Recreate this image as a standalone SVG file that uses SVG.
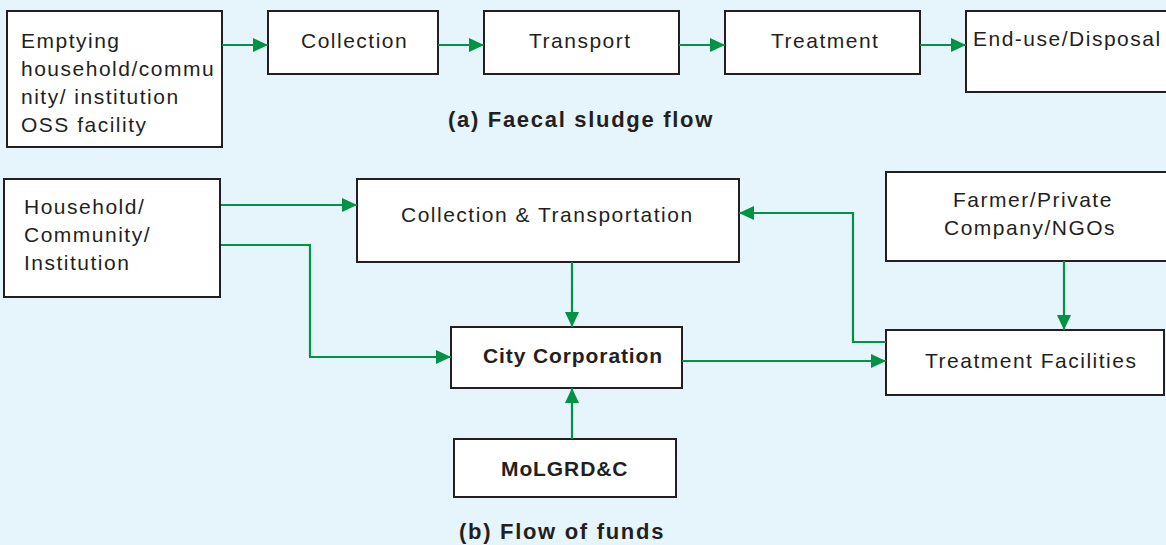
<svg xmlns="http://www.w3.org/2000/svg" width="1166" height="545" viewBox="0 0 1166 545">
<defs>
<marker id="ah" markerUnits="userSpaceOnUse" markerWidth="16" markerHeight="14" refX="15" refY="7" orient="auto">
<path d="M0,0 L15,7 L0,14 Z" fill="#009245"/>
</marker>
<style>
.box{fill:#ffffff;stroke:#231f20;stroke-width:2}
.t{font-family:"Liberation Sans",Arial,sans-serif;font-size:21px;fill:#231f20;letter-spacing:1.5px}
.b{font-family:"Liberation Sans",Arial,sans-serif;font-size:21px;font-weight:bold;fill:#231f20;letter-spacing:0.9px}
.cap{font-family:"Liberation Sans",Arial,sans-serif;font-size:22px;font-weight:bold;fill:#231f20;letter-spacing:1.7px}
.c{fill:none;stroke:#009245;stroke-width:2.2;marker-end:url(#ah)}
</style>
</defs>
<rect width="1166" height="545" fill="#e6f4fc"/>
<g id="n-emptying"><rect class="box" x="7" y="11" width="215" height="136"/>
<text class="t" x="21" y="48">Emptying</text>
<text class="t" x="21" y="76">household/commu</text>
<text class="t" x="21" y="104">nity/ institution</text>
<text class="t" x="21" y="132">OSS facility</text></g>
<g id="n-collection"><rect class="box" x="268" y="11" width="170" height="63"/>
<text class="t" x="301" y="48">Collection</text></g>
<g id="n-transport"><rect class="box" x="484" y="11" width="195" height="63"/>
<text class="t" x="529" y="48">Transport</text></g>
<g id="n-treatment"><rect class="box" x="725" y="11" width="195" height="63"/>
<text class="t" x="771" y="48">Treatment</text></g>
<g id="n-enduse"><rect class="box" x="966" y="11" width="210" height="81"/>
<text class="t" x="973" y="46">End-use/Disposal</text></g>
<g id="cap-a"><text class="cap" x="448" y="127">(a) Faecal sludge flow</text></g>
<g id="n-household"><rect class="box" x="4" y="179" width="216" height="118"/>
<text class="t" x="24" y="214">Household/</text>
<text class="t" x="24" y="242">Community/</text>
<text class="t" x="24" y="270">Institution</text></g>
<g id="n-colltrans"><rect class="box" x="357" y="179" width="382" height="83"/>
<text class="t" x="401" y="222">Collection &amp; Transportation</text></g>
<g id="n-farmer"><rect class="box" x="886" y="172" width="290" height="89"/>
<text class="t" x="953" y="207">Farmer/Private</text>
<text class="t" x="944" y="235">Company/NGOs</text></g>
<g id="n-city"><rect class="box" x="451" y="327" width="231" height="61"/>
<text class="b" x="483" y="363">City Corporation</text></g>
<g id="n-treatfac"><rect class="box" x="886" y="330" width="278" height="65"/>
<text class="t" x="925" y="368">Treatment Facilities</text></g>
<g id="n-molgrd"><rect class="box" x="454" y="439" width="222" height="58"/>
<text class="b" x="501" y="476">MoLGRD&amp;C</text></g>
<g id="cap-b"><text class="cap" x="459" y="539">(b) Flow of funds</text></g>
<g id="connectors">
<path class="c" d="M222,45 H268"/>
<path class="c" d="M438,45 H484"/>
<path class="c" d="M679,45 H725"/>
<path class="c" d="M920,45 H966"/>
<path class="c" d="M221,205 H357"/>
<path class="c" d="M221,245 H310 V357 H451"/>
<path class="c" d="M572,262 V327"/>
<path class="c" d="M572,439 V388"/>
<path class="c" d="M682,361 H886"/>
<path class="c" d="M1064,261 V330"/>
<path class="c" d="M886,342 H853 V213 H739"/>
</g>
</svg>
